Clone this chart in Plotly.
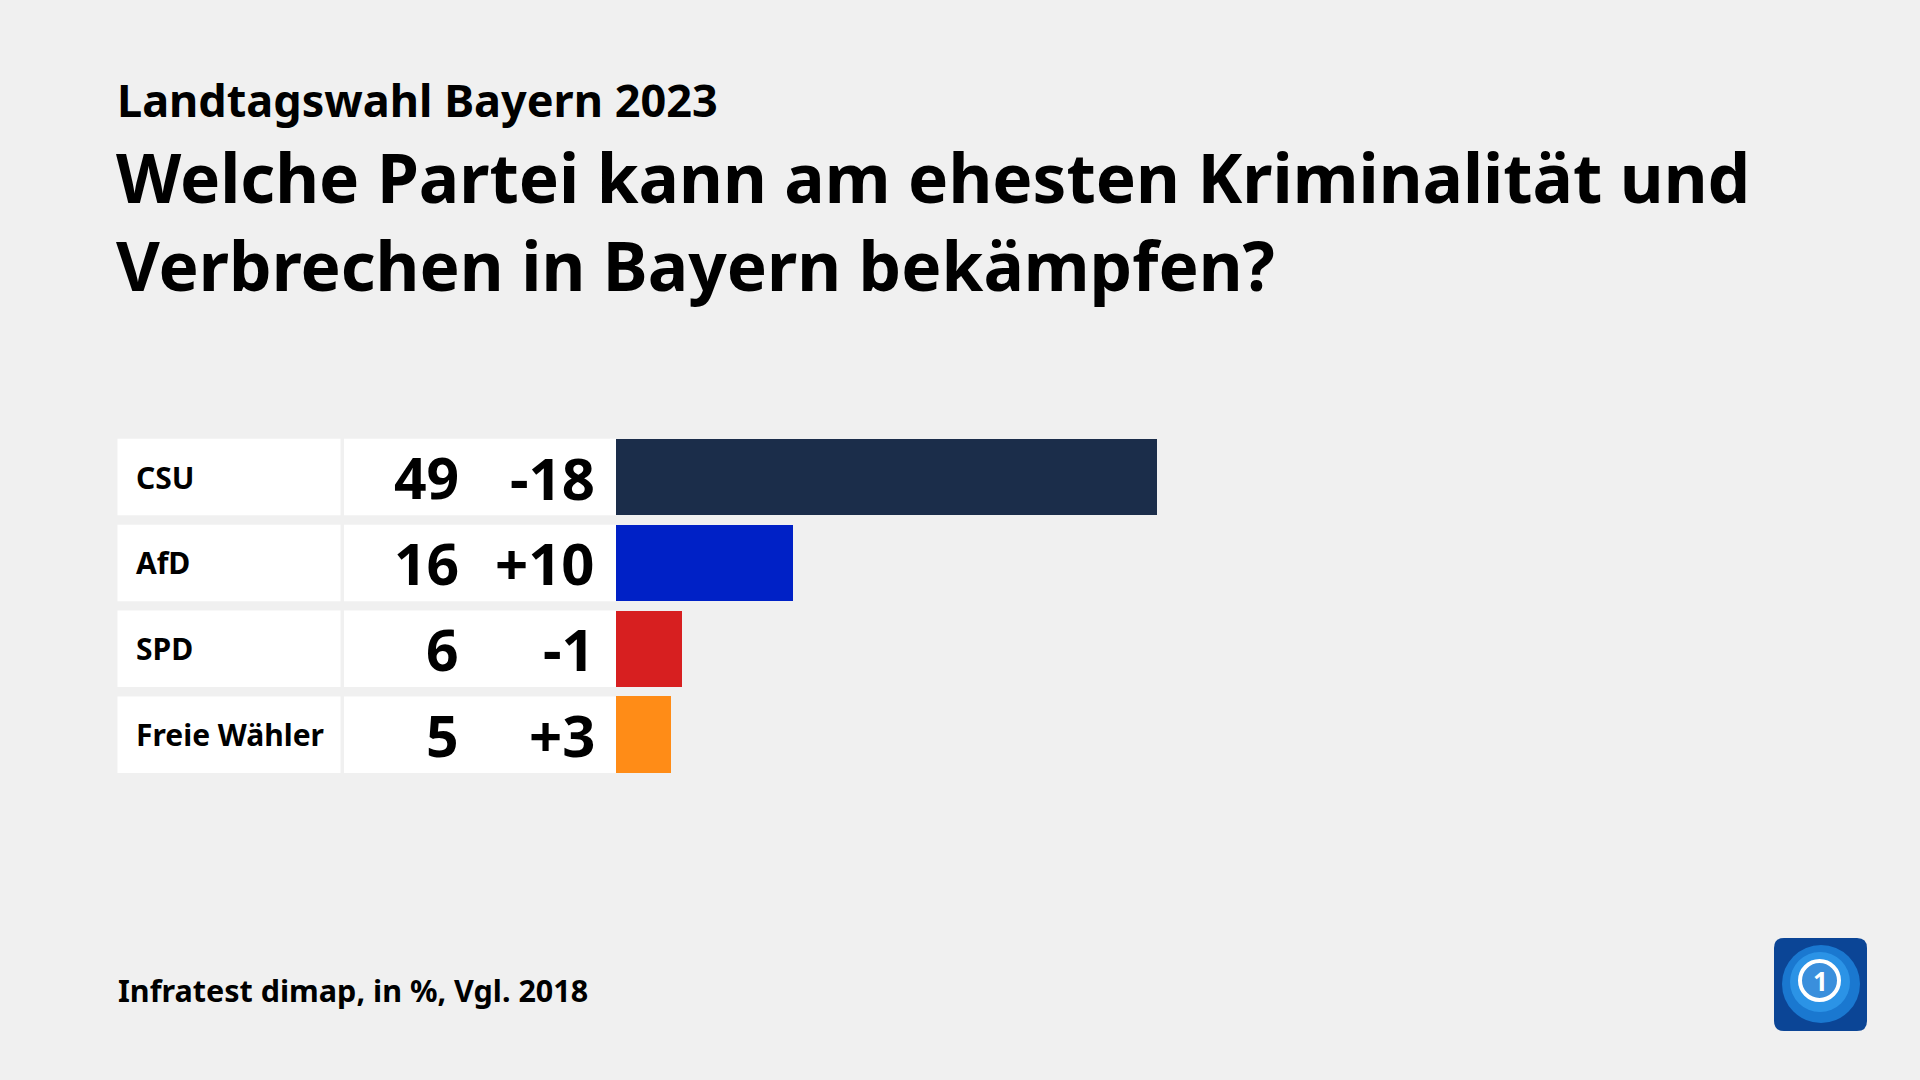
import plotly.graph_objects as go

# ---- data ----
parties = ["CSU", "AfD", "SPD", "Freie Wähler"]
values = [49, 16, 6, 5]
changes = ["-18", "+10", "-1", "+3"]
colors = ["#1b2d4a", "#0021c6", "#d71f20", "#ff8c17"]

subtitle = "Landtagswahl Bayern 2023"
title_lines = ["Welche Partei kann am ehesten Kriminalität und",
               "Verbrechen in Bayern bekämpfen?"]
footer = "Infratest dimap, in %, Vgl. 2018"

W, H = 1920, 1080
FONT = "Noto Sans"


def px(x):
    return x / W


def py(y):
    return 1 - y / H


rows = list(range(len(parties)))
ROW_CENTER0 = 477.0
PITCH = 85.9
BAR_W = 0.89
X0_PX = 616.0
PX_PER_UNIT = 11.04

fig = go.Figure()
fig.add_trace(go.Bar(
    x=values, y=rows, orientation="h",
    marker=dict(color=colors, line=dict(width=0)),
    width=BAR_W, hoverinfo="skip", showlegend=False,
))

shapes = []
annotations = []
for i, (p, v, c) in enumerate(zip(parties, values, changes)):
    # white label box and value box
    shapes.append(dict(type="rect", xref="paper", yref="y",
                       x0=px(117.5), x1=px(340.5), y0=i - BAR_W / 2, y1=i + BAR_W / 2,
                       fillcolor="white", line=dict(width=0), layer="below"))
    shapes.append(dict(type="rect", xref="paper", yref="y",
                       x0=px(344), x1=px(616), y0=i - BAR_W / 2, y1=i + BAR_W / 2,
                       fillcolor="white", line=dict(width=0), layer="below"))
    annotations.append(dict(text=f"<b>{p}</b>", xref="paper", yref="y", x=px(134), y=i,
                            xanchor="left", yanchor="middle", showarrow=False,
                            font=dict(family=FONT, size=30, color="#000")))
    annotations.append(dict(text=f"<b>{v}</b>", xref="paper", yref="y", x=px(461), y=i,
                            xanchor="right", yanchor="middle", showarrow=False,
                            font=dict(family=FONT, size=57, color="#000")))
    annotations.append(dict(text=f"<b>{c}</b>", xref="paper", yref="y", x=px(597), y=i,
                            xanchor="right", yanchor="middle", showarrow=False,
                            font=dict(family=FONT, size=58, color="#000")))

# headings
annotations.append(dict(text=f"<b>{subtitle}</b>", xref="paper", yref="paper",
                        x=px(115), y=py(99), xanchor="left", yanchor="middle",
                        showarrow=False, font=dict(family=FONT, size=45, color="#000")))
annotations.append(dict(text="<b>" + "<br>".join(title_lines) + "</b>",
                        xref="paper", yref="paper", align="left",
                        x=px(114), y=py(221), xanchor="left", yanchor="middle",
                        showarrow=False, font=dict(family=FONT, size=67.5, color="#000")))
annotations.append(dict(text=f"<b>{footer}</b>", xref="paper", yref="paper",
                        x=px(116), y=py(990), xanchor="left", yanchor="middle",
                        showarrow=False, font=dict(family=FONT, size=30.5, color="#000")))

# logo (rounded square with globe and ring)
lx0, lx1, ly0, ly1, r = 1774, 1867, 938, 1031, 10
path = (f"M {px(lx0 + r)} {py(ly0)} L {px(lx1 - r)} {py(ly0)} "
        f"Q {px(lx1)} {py(ly0)} {px(lx1)} {py(ly0 + r)} L {px(lx1)} {py(ly1 - r)} "
        f"Q {px(lx1)} {py(ly1)} {px(lx1 - r)} {py(ly1)} L {px(lx0 + r)} {py(ly1)} "
        f"Q {px(lx0)} {py(ly1)} {px(lx0)} {py(ly1 - r)} L {px(lx0)} {py(ly0 + r)} "
        f"Q {px(lx0)} {py(ly0)} {px(lx0 + r)} {py(ly0)} Z")
shapes.append(dict(type="path", xref="paper", yref="paper", path=path,
                   fillcolor="#0b4596", line=dict(width=0)))
shapes.append(dict(type="circle", xref="paper", yref="paper",
                   x0=px(1782), x1=px(1860), y0=py(1023), y1=py(945),
                   fillcolor="#1a78d0", line=dict(width=0)))
shapes.append(dict(type="circle", xref="paper", yref="paper",
                   x0=px(1790), x1=px(1850), y0=py(1012), y1=py(952),
                   fillcolor="#2b93e6", line=dict(width=0)))
shapes.append(dict(type="circle", xref="paper", yref="paper",
                   x0=px(1800), x1=px(1839), y0=py(1000), y1=py(961),
                   fillcolor="#3a8fdc", line=dict(color="white", width=4)))
annotations.append(dict(text="<b>1</b>", xref="paper", yref="paper",
                        x=px(1820), y=py(981), xanchor="center", yanchor="middle",
                        showarrow=False, font=dict(family=FONT, size=26, color="white")))

fig.update_layout(
    width=W, height=H,
    margin=dict(l=0, r=0, t=0, b=0),
    paper_bgcolor="#f0f0f0", plot_bgcolor="rgba(0,0,0,0)",
    xaxis=dict(domain=[px(X0_PX), 1], range=[0, (W - X0_PX) / PX_PER_UNIT],
               visible=False, fixedrange=True),
    yaxis=dict(domain=[0, 1],
               range=[(H - ROW_CENTER0) / PITCH, (0 - ROW_CENTER0) / PITCH],
               visible=False, fixedrange=True),
    shapes=shapes, annotations=annotations,
    bargap=0, showlegend=False,
)

fig.write_html(
    "out.html",
    config={"displayModeBar": False},
    post_script="document.body.style.margin='0';document.body.style.overflow='hidden';",
)
